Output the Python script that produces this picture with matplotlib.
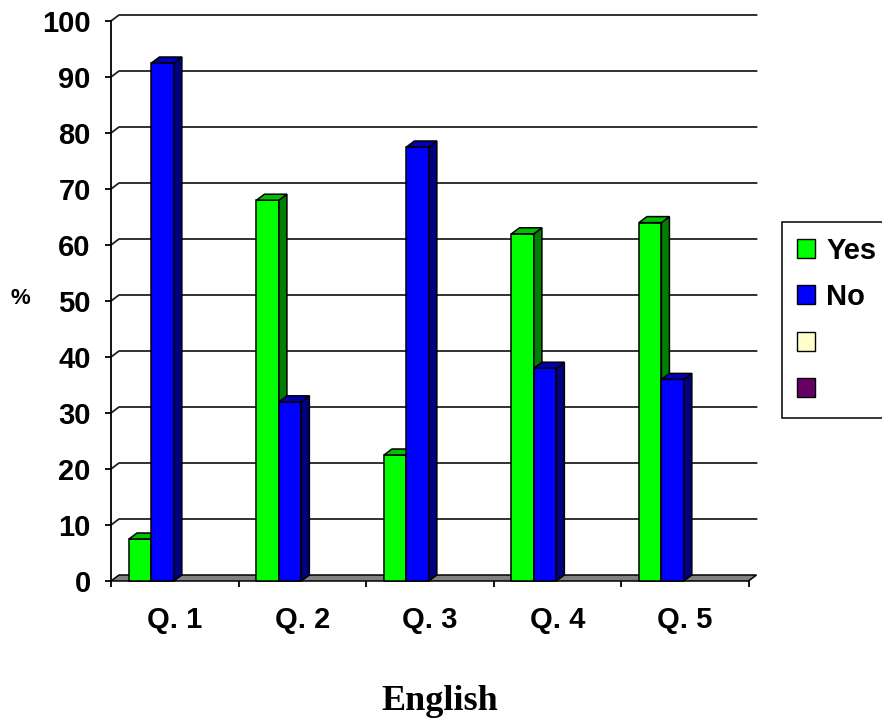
import matplotlib.pyplot as plt
from matplotlib.patches import Polygon, Patch

plt.rcParams["font.family"] = ["Liberation Sans", "DejaVu Sans"]

categories = ["Q. 1", "Q. 2", "Q. 3", "Q. 4", "Q. 5"]
yes_vals = [7.5, 68, 22.5, 62, 64]
no_vals = [92.5, 32, 77.5, 38, 36]
legend_labels = ["Yes", "No", " ", " "]

# front / side / top colours, Excel style
green = ("#00FF00", "#008000", "#00C000")
blue = ("#0000FF", "#000080", "#0000B0")
extra_colors = ["#FFFFCC", "#660066"]

DX = 0.0627   # depth in category units
DY = 1.07     # depth in value units
W = 0.176
OFF = 0.141

fig = plt.figure(figsize=(8.82, 7.21), dpi=100)
ax = fig.add_axes([111 / 882, (721 - 581) / 721, 637.5 / 882, 560 / 721])
ax.set_xlim(0, len(categories))
ax.set_ylim(0, 100)

for s in ["top", "right", "bottom"]:
    ax.spines[s].set_visible(False)
ax.spines["left"].set_linewidth(1.3)

# back wall gridlines with the little diagonal to the tick
for v in range(10, 101, 10):
    ax.plot([0, DX, len(categories) + DX], [v, v + DY, v + DY],
            color="#222222", lw=1.3, clip_on=False, zorder=1)

# floor
floor = Polygon([(0, 0), (len(categories), 0), (len(categories) + DX, DY), (DX, DY)],
                closed=True, facecolor="#808080", edgecolor="black", lw=1.1,
                clip_on=False, zorder=2)
ax.add_patch(floor)


def bar3d(x, v, cols, z):
    ax.bar(x, v, width=W, align="edge", color=cols[0], edgecolor="black",
           lw=1.1, zorder=z, clip_on=False)
    side = Polygon([(x + W, 0), (x + W + DX, DY), (x + W + DX, v + DY), (x + W, v)],
                   closed=True, facecolor=cols[1], edgecolor="black", lw=1.1,
                   clip_on=False, zorder=z)
    top = Polygon([(x, v), (x + DX, v + DY), (x + W + DX, v + DY), (x + W, v)],
                  closed=True, facecolor=cols[2], edgecolor="black", lw=1.1,
                  clip_on=False, zorder=z)
    ax.add_patch(side)
    ax.add_patch(top)


for i in range(len(categories)):
    bar3d(i + OFF, yes_vals[i], green, 3 + 2 * i)
    bar3d(i + OFF + W, no_vals[i], blue, 4 + 2 * i)

ax.set_yticks(range(0, 101, 10))
ax.tick_params(axis="y", direction="out", length=4.5, width=1.3, pad=10,
               labelsize=21)
for t in ax.get_yticklabels():
    t.set_fontweight("bold")

ax.set_xticks(range(0, len(categories) + 1))
ax.set_xticklabels([])
ax.tick_params(axis="x", which="major", direction="out", length=4.5, width=1.3)
ax.set_xticks([i + 0.5 for i in range(len(categories))], minor=True)
ax.set_xticklabels(categories, minor=True, fontsize=21, fontweight="bold")
ax.tick_params(axis="x", which="minor", length=0, pad=18)

fig.text(20 / 882, 1 - 299 / 721, "%", fontsize=16, fontweight="bold",
         ha="center", va="center")
fig.text(440 / 882, 1 - 702 / 721, "English", fontsize=26, fontweight="bold",
         family=["Liberation Serif", "DejaVu Serif"], ha="center", va="center")

handles = [Patch(facecolor=green[0], edgecolor="black"),
           Patch(facecolor=blue[0], edgecolor="black"),
           Patch(facecolor=extra_colors[0], edgecolor="black"),
           Patch(facecolor=extra_colors[1], edgecolor="black")]
leg = fig.legend(handles, legend_labels, loc="upper left",
                 bbox_to_anchor=(782 / 882, 1 - 222 / 721),
                 prop={"size": 21, "weight": "bold"},
                 handlelength=0.62, handleheight=0.62, handletextpad=0.4,
                 borderpad=0.5, labelspacing=0.63, borderaxespad=0,
                 fancybox=False, framealpha=1)
leg.get_frame().set_edgecolor("black")
leg.get_frame().set_linewidth(1.1)

fig.savefig("out.png", dpi=100)
